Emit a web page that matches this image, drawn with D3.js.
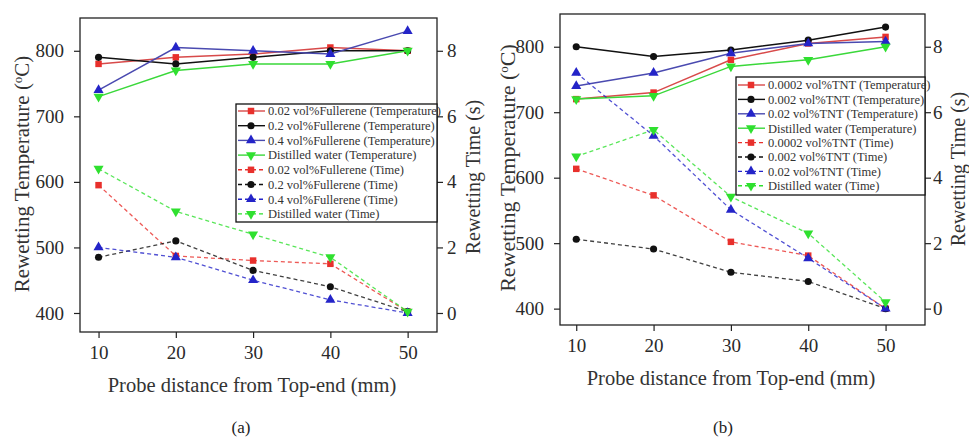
<!DOCTYPE html>
<html>
<head>
<meta charset="utf-8">
<script src="https://cdn.jsdelivr.net/npm/d3@7"></script>
<style>
  body { margin: 0; background: #fff; }
  svg { font-family: "Liberation Serif", "Times New Roman", serif; }
</style>
</head>
<body>
<svg id="chart" width="969" height="442"></svg>
<script>
var xVals = [10, 20, 30, 40, 50];
var tempTicks = [400, 500, 600, 700, 800];
var timeTicks = [0, 2, 4, 6, 8];

// (a) fullerene
var fulNames = ['0.02 vol%Fullerene', '0.2 vol%Fullerene', '0.4 vol%Fullerene', 'Distilled water'];
var fulTemp002 = [780, 790, 795, 805, 800];
var fulTemp02 = [790, 780, 790, 800, 800];
var fulTemp04 = [740, 805, 800, 795, 830];
var fulTempWater = [730, 770, 780, 780, 800];
var fulTime002 = [3.9, 1.74, 1.6, 1.5, 0.04];
var fulTime02 = [1.7, 2.2, 1.3, 0.8, 0.04];
var fulTime04 = [2.0, 1.7, 1.0, 0.4, 0.0];
var fulTimeWater = [4.4, 3.1, 2.4, 1.7, 0.04];

// (b) TNT
var tntNames = ['0.0002 vol%TNT', '0.002 vol%TNT', '0.02 vol%TNT', 'Distilled water'];
var tntTemp00002 = [720, 730, 780, 805, 815];
var tntTemp0002 = [800, 785, 795, 810, 830];
var tntTemp002 = [740, 760, 790, 805, 808];
var tntTempWater = [720, 725, 770, 780, 800];
var tntTime00002 = [4.27, 3.46, 2.04, 1.62, 0.0];
var tntTime0002 = [2.12, 1.82, 1.11, 0.83, 0.0];
var tntTime002 = [7.2, 5.28, 3.02, 1.54, 0.0];
var tntTimeWater = [4.65, 5.46, 3.42, 2.3, 0.2];

var colors = ['#e8302c', '#111111', '#2424c8', '#2fe02f'];
var lineColors = ['#d84a4a', '#111111', '#4a4ab0', '#3ad83a'];
var markers = ['square', 'circle', 'up', 'down'];

var svg = d3.select('#chart');

function markerPath(kind) {
  if (kind == 'square') return d3.symbol(d3.symbolSquare, 42)();
  if (kind == 'circle') return d3.symbol(d3.symbolCircle, 40)();
  return d3.symbol(d3.symbolTriangle, 44)();
}

function buildSeries(names, temps, times) {
  var out = [];
  names.forEach(function (n, i) {
    out.push({ label: n + ' (Temperature)', values: temps[i], axis: 'temp', idx: i, dashed: false });
  });
  names.forEach(function (n, i) {
    out.push({ label: n + ' (Time)', values: times[i], axis: 'time', idx: i, dashed: true });
  });
  return out;
}

function drawPanel(p) {
  var g = svg.append('g');
  var x = d3.scaleLinear().domain(p.xDomain).range([p.left, p.right]);
  var yT = d3.scaleLinear().domain(p.tempDomain).range([p.bottom, p.top]);
  var yS = d3.scaleLinear().domain(p.timeDomain).range([p.bottom, p.top]);

  // axes
  var bottom = g.append('g').attr('transform', 'translate(0,' + p.bottom + ')');
  bottom.call(d3.axisBottom(x).tickValues([15, 25, 35, 45]).tickSize(3).tickFormat(''));
  bottom.call(d3.axisBottom(x).tickValues(xVals).tickSize(6).tickPadding(8).tickFormat(d3.format('d')));

  var left = g.append('g').attr('transform', 'translate(' + p.left + ',0)');
  left.call(d3.axisLeft(yT).tickValues([450, 550, 650, 750]).tickSize(3).tickFormat(''));
  left.call(d3.axisLeft(yT).tickValues(tempTicks).tickSize(6).tickPadding(10).tickFormat(d3.format('d')));

  var right = g.append('g').attr('transform', 'translate(' + p.right + ',0)');
  right.call(d3.axisRight(yS).tickValues([1, 3, 5, 7]).tickSize(3).tickFormat(''));
  right.call(d3.axisRight(yS).tickValues(timeTicks).tickSize(6).tickPadding(p.rightPad).tickFormat(d3.format('d')));

  g.selectAll('.domain').remove();
  g.selectAll('.tick line').attr('stroke', '#222').attr('stroke-width', 1.2);
  g.selectAll('.tick text').attr('font-size', 19).attr('fill', '#2a2a2a')
    .attr('font-family', '"Liberation Serif", "Times New Roman", serif');

  g.append('rect')
    .attr('x', p.left).attr('y', p.top)
    .attr('width', p.right - p.left).attr('height', p.bottom - p.top)
    .attr('fill', 'none').attr('stroke', '#222').attr('stroke-width', 1.3);

  // series
  p.series.forEach(function (s) {
    var yy = s.axis == 'temp' ? yT : yS;
    var line = d3.line().x(function (d, i) { return x(xVals[i]); }).y(function (d) { return yy(d); });
    g.append('path')
      .datum(s.values)
      .attr('d', line)
      .attr('fill', 'none')
      .attr('stroke', s.dashed ? colors[s.idx] : lineColors[s.idx])
      .attr('stroke-width', s.dashed ? 1.3 : 1.5)
      .attr('stroke-dasharray', s.dashed ? '4,3' : null)
      .attr('opacity', s.dashed ? 0.8 : 1);
    g.selectAll(null)
      .data(s.values)
      .enter()
      .append('path')
      .attr('d', markerPath(markers[s.idx]))
      .attr('transform', function (d, i) {
        return 'translate(' + x(xVals[i]) + ',' + yy(d) + ')' + (markers[s.idx] == 'down' ? ' rotate(180)' : '');
      })
      .attr('fill', colors[s.idx]);
  });

  // legend
  var lg = g.append('g');
  lg.append('rect')
    .attr('x', p.legX).attr('y', p.legY).attr('width', p.right - p.legX).attr('height', p.legH)
    .attr('fill', '#fff').attr('stroke', '#111').attr('stroke-width', 1.3);
  p.series.forEach(function (s, i) {
    var cy = p.legY + p.legFirst + i * p.legStep;
    lg.append('line')
      .attr('x1', p.legX + 2).attr('x2', p.legX + 29).attr('y1', cy).attr('y2', cy)
      .attr('stroke', s.dashed ? colors[s.idx] : lineColors[s.idx])
      .attr('stroke-width', 1.4)
      .attr('stroke-dasharray', s.dashed ? '4,3' : null);
    lg.append('path')
      .attr('d', markerPath(markers[s.idx]))
      .attr('transform', 'translate(' + (p.legX + 15) + ',' + cy + ')' + (markers[s.idx] == 'down' ? ' rotate(180)' : ''))
      .attr('fill', colors[s.idx]);
    lg.append('text')
      .attr('x', p.legX + 32).attr('y', cy).attr('dy', '0.35em')
      .attr('font-size', 12.5).attr('fill', '#333')
      .text(s.label);
  });

  // titles
  var lt = g.append('text')
    .attr('transform', 'translate(' + p.leftTitleX + ',' + p.leftTitleY + ') rotate(-90)')
    .attr('text-anchor', 'middle').attr('font-size', p.leftTitleSize).attr('fill', '#333');
  lt.append('tspan').text('Rewetting Temperature (');
  lt.append('tspan').attr('baseline-shift', 'super').attr('font-size', 13).text('o');
  lt.append('tspan').text('C)');

  g.append('text')
    .attr('transform', 'translate(' + p.rightTitleX + ',' + p.rightTitleY + ') rotate(-90)')
    .attr('text-anchor', 'middle').attr('font-size', 20).attr('fill', '#333')
    .text('Rewetting Time (s)');

  g.append('text')
    .attr('x', p.xTitleX).attr('y', p.xTitleY)
    .attr('text-anchor', 'middle').attr('font-size', 20.5).attr('fill', '#333')
    .text('Probe distance from Top-end (mm)');

  g.append('text')
    .attr('x', p.capX).attr('y', 433)
    .attr('text-anchor', 'middle').attr('font-size', 17).attr('fill', '#222')
    .text(p.caption);
}

drawPanel({
  left: 80, right: 437, top: 18, bottom: 332,
  xDomain: [7.6, 53.8], tempDomain: [371, 850], timeDomain: [-0.58, 9],
  rightPad: 4,
  series: buildSeries(fulNames,
    [fulTemp002, fulTemp02, fulTemp04, fulTempWater],
    [fulTime002, fulTime02, fulTime04, fulTimeWater]),
  legX: 236, legY: 104, legH: 118, legFirst: 7, legStep: 14.7,
  leftTitleX: 29, leftTitleY: 174, leftTitleSize: 21,
  rightTitleX: 480, rightTitleY: 177,
  xTitleX: 252, xTitleY: 392, capX: 241, caption: '(a)'
});

drawPanel({
  left: 560, right: 925, top: 14, bottom: 325,
  xDomain: [7.9, 55.1], tempDomain: [375, 850], timeDomain: [-0.5, 9],
  rightPad: 2,
  series: buildSeries(tntNames,
    [tntTemp00002, tntTemp0002, tntTemp002, tntTempWater],
    [tntTime00002, tntTime0002, tntTime002, tntTimeWater]),
  legX: 736, legY: 77, legH: 118, legFirst: 8, legStep: 14.4,
  leftTitleX: 515, leftTitleY: 168, leftTitleSize: 22,
  rightTitleX: 965, rightTitleY: 169,
  xTitleX: 731, xTitleY: 385, capX: 723, caption: '(b)'
});
</script>
</body>
</html>
